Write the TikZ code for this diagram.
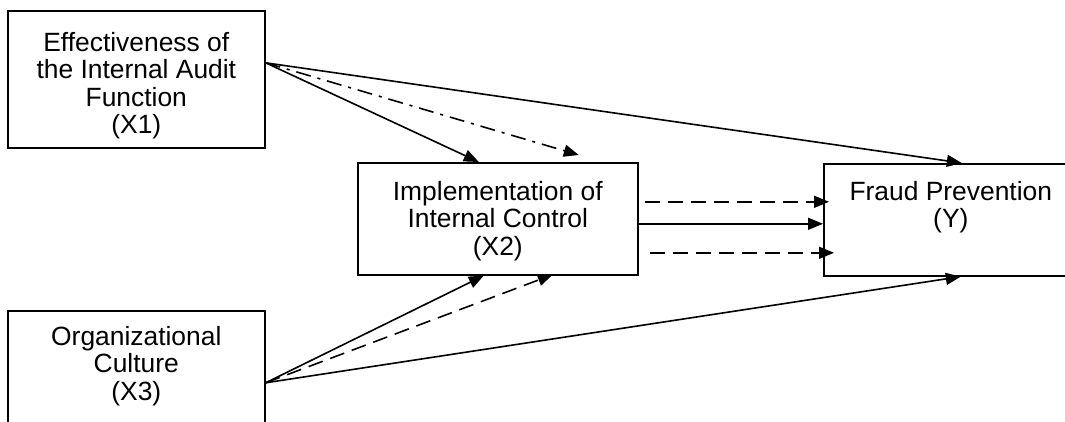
\documentclass[tikz,border=0pt]{standalone}
\usepackage{fontspec}
\setmainfont{Liberation Sans}
\usepackage{tikz}
\usetikzlibrary{arrows.meta}

\begin{document}
\begin{tikzpicture}[x=1pt,y=-1pt,
	box/.style={draw,line width=1.6pt,anchor=north west,inner sep=0pt},
	lbl/.style={align=center,inner sep=0pt,font=\fontsize{26.4pt}{27.5pt}\selectfont},
	arr/.style={-{Triangle[length=15pt,width=12pt]},line width=1.6pt},
	dsh/.style={arr,dash pattern=on 15pt off 8pt},
	dshdot/.style={arr,dash pattern=on 15pt off 7pt on 3pt off 7pt}]
			\useasboundingbox (0,0) rectangle (1065,421);
			\clip (0,0) rectangle (1065,421);
			\node[box,minimum width=257pt,minimum height=137pt] (x1) at (7,10) {};
			\node[box,minimum width=280pt,minimum height=112pt] (x2) at (357,162) {};
			\node[box,minimum width=254pt,minimum height=112pt] (y) at (823,163) {};
			\node[box,minimum width=257pt,minimum height=130pt] (x3) at (7,310) {};
			\node[lbl] (x1t) at ([yshift=-6.5pt]x1.center) {Effectiveness of\\the Internal Audit\\Function\\(X1)};
			\node[lbl] (x2t) at ([yshift=-2pt]x2.center) {Implementation of\\Internal Control\\(X2)};
			\node[lbl] (yt) at ([yshift=12.5pt]y.center) {Fraud Prevention\\(Y)};
			\node[lbl] (x3t) at ([yshift=10pt]x3.center) {Organizational\\Culture\\(X3)};
			% from X1
			\draw[arr] ([yshift=16.5pt]x1.east) -- ([xshift=-19pt]x2.north);
			\draw[dshdot] ([yshift=16.5pt]x1.east) -- ([xshift=81pt,yshift=7pt]x2.north);
			\draw[arr] ([yshift=16.5pt]x1.east) -- ([xshift=11pt]y.north);
			% from X2
			\draw[dsh] ([xshift=6pt,yshift=17pt]x2.east) -- ([xshift=6pt,yshift=17pt]x2.east -| y.west);
			\draw[arr] ([yshift=-5pt]x2.east) -- ([yshift=-5pt]x2.east -| y.west);
			\draw[dsh] ([xshift=11pt,yshift=-34pt]x2.east) -- ([xshift=11pt,yshift=-34pt]x2.east -| y.west);
			% from X3
			\draw[arr] ([yshift=-7pt]x3.east) -- ([xshift=-14pt]x2.south);
			\draw[dsh] ([yshift=-7pt]x3.east) -- ([xshift=55pt,yshift=1pt]x2.south);
			\draw[arr] ([yshift=-7pt]x3.east) -- ([xshift=10pt]y.south);
\end{tikzpicture}
\end{document}
